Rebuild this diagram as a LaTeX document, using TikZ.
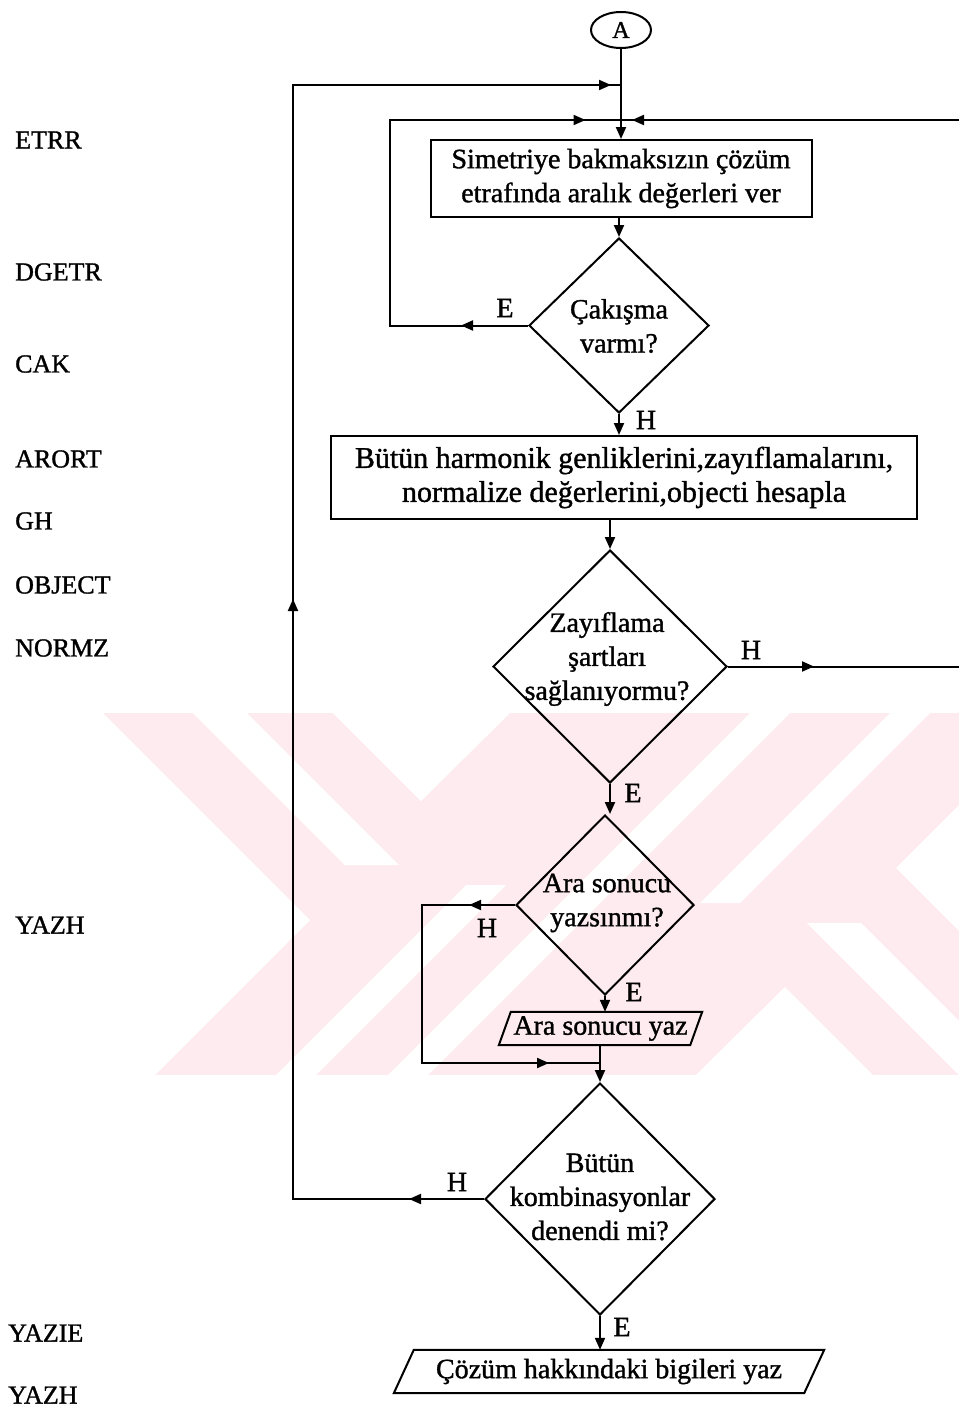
\documentclass[tikz,border=0pt]{standalone}
\usepackage{fontspec}
\setmainfont{Liberation Serif}[FakeBold=1.2]
\usetikzlibrary{shapes.geometric,arrows.meta,decorations.markings,calc}
\definecolor{wm}{RGB}{253,235,239}
\newcommand{\flowfont}{\fontsize{28}{34}\selectfont}
\newcommand{\sidefont}{\fontsize{26}{30}\selectfont}
\tikzset{
  x=1pt, y=-1pt,
  flow/.style={line width=2pt},
  endtip/.style={-{Triangle[length=12pt,width=10pt]}},
  midtip/.style={postaction={decorate,decoration={markings,
      mark=at position #1 with {\arrow{Triangle[length=12pt,width=10pt]}}}}},
  proc/.style={draw,line width=2pt,rectangle,inner sep=0pt,align=center,font=\flowfont},
  dec/.style={draw,line width=2pt,diamond,inner sep=0pt},
  dectext/.style={align=center,font=\flowfont,inner sep=0pt},
  io/.style={inner sep=0pt,font=\flowfont},
  yn/.style={font=\flowfont,inner sep=0pt},
  side/.style={font=\sidefont,anchor=west,inner sep=0pt},
}
\begin{document}
\begin{tikzpicture}
\useasboundingbox (0,0) rectangle (959,1413);

% faint background emblem: a pink band with white notches and slits
\begin{scope}
  \clip (103,713) rectangle (959,1075);
  \fill[wm] (103,713) rectangle (959,1075);
  \fill[white] (0,713) -- (103,713) -- (310,920) -- (155,1075) -- (0,1075) -- cycle;
  \fill[white] (333,713) -- (421,801) -- (510,713) -- cycle;
  \fill[white] (193,713) -- (247,713) -- (399,865) -- (345,865) -- cycle;
  \fill[white] (750,713) -- (790,713) -- (428,1075) -- (388,1075) -- cycle;
  \fill[white] (890,713) -- (930,713) -- (740,903) -- (700,903) -- cycle;
  \fill[white] (276,1075) -- (316,1075) -- (506,885) -- (466,885) -- cycle;
  \fill[white] (1051,713) -- (896,868) -- (1103,1075) -- (1200,1075) -- (1200,713) -- cycle;
  \fill[white] (873,1075) -- (785,987) -- (696,1075) -- cycle;
  \fill[white] (1013,1075) -- (959,1075) -- (807,923) -- (861,923) -- cycle;
\end{scope}

% subroutine names
\node[side] (s1) at (15,140) {ETRR};
\node[side] (s2) at (15,272) {DGETR};
\node[side] (s3) at (15,364) {CAK};
\node[side] (s4) at (15,459) {ARORT};
\node[side] (s5) at (15,521) {GH};
\node[side] (s6) at (15,585) {OBJECT};
\node[side] (s7) at (15,648) {NORMZ};
\node[side] (s8) at (15,925) {YAZH};
\node[side] (s9) at (8,1333) {YAZIE};
\node[side] (s10) at (8,1395) {YAZH};

% flowchart nodes
\node[draw,line width=2pt,ellipse,minimum width=60pt,minimum height=36pt,inner sep=0pt,
      font=\fontsize{24}{28}\selectfont] (A) at (621,30) {A};
\node[proc,minimum width=381pt,minimum height=77pt] (b1) at (621,178.5)
  {Simetriye bakmaksızın çözüm\\etrafında aralık değerleri ver};
\node[dec,minimum width=180pt,minimum height=175pt] (d1) at (619,325.5) {};
\node[dectext] (t1) at (619,326) {Çakışma\\varmı?};
\node[proc,minimum width=586pt,minimum height=83pt,font=\fontsize{30}{34}\selectfont] (b2) at (624,477.5)
  {Bütün harmonik genliklerini,zayıflamalarını,\\normalize değerlerini,objecti hesapla};
\node[dec,minimum width=234pt,minimum height=233pt] (d2) at (610,666.5) {};
\node[dectext] (t2) at (607,659) {Zayıflama\\şartları\\sağlanıyormu?};
\node[dec,minimum width=178pt,minimum height=180pt] (d3) at (605,905) {};
\node[dectext] (t3) at (607,903) {Ara sonucu\\yazsınmı?};
\node[io,minimum width=191pt,minimum height=33pt] (p1) at (600.5,1028.5) {Ara sonucu yaz};
\draw[flow] ($(p1.north west)+(6,0)$) -- ($(p1.north east)+(6,0)$)
  -- ($(p1.south east)+(-6,0)$) -- ($(p1.south west)+(-6,0)$) -- cycle;
\node[dec,minimum width=230pt,minimum height=232pt] (d4) at (600,1199) {};
\node[dectext] (t4) at (600,1197) {Bütün\\kombinasyonlar\\denendi mi?};
\node[io,minimum width=410pt,minimum height=43pt] (p2) at (609,1371.5) {Çözüm hakkındaki bigileri yaz};
\draw[flow] ($(p2.north west)+(10,0)$) -- ($(p2.north east)+(10,0)$)
  -- ($(p2.south east)+(-10,0)$) -- ($(p2.south west)+(-10,0)$) -- cycle;

% branch letters
\node[yn] (e1) at (505,308) {E};
\node[yn] (h1) at (646,420) {H};
\node[yn] (h2) at (751,650) {H};
\node[yn] (e2) at (633,793) {E};
\node[yn] (h3) at (487,928) {H};
\node[yn] (e3) at (634,992) {E};
\node[yn] (h4) at (457,1182) {H};
\node[yn] (e4) at (622,1327) {E};

% loop corners and open ends
\coordinate (outer) at (293,85);
\coordinate (inner) at (390,120);
\coordinate (rtop) at (959,120);
\coordinate (rmid) at (959,666.5);
\coordinate (skip) at (422,1063);

% main flow
\draw[flow,endtip] (A.south) -- (b1.north);
\draw[flow,endtip] (b1.south -| d1.north) -- (d1.north);
\draw[flow,endtip] (d1.south) -- (d1.south |- b2.north);
\draw[flow,endtip] (d2.north |- b2.south) -- (d2.north);
\draw[flow,endtip] (d2.south) -- (d2.south |- d3.north);
\draw[flow,endtip] (d3.south) -- (d3.south |- p1.north);
\draw[flow,endtip] (p1.south -| d4.north) -- (d4.north);
\draw[flow,endtip] (d4.south) -- (d4.south |- p2.north);

% loops back to the top
\draw[flow,midtip=67pt,midtip=539pt] (d1.west) -| (inner) -- (inner -| b1.north);
\draw[flow,midtip=327pt] (rtop) -- (rtop -| b1.north);
\draw[flow,midtip=86pt] (d2.east) -- (rmid);
\draw[flow,midtip=46pt,midtip=378pt] (d3.west) -| (skip) -- (skip -| p1.south);
\draw[flow,midtip=75pt,midtip=791pt,midtip=1623pt] (d4.west) -| (outer) -- (outer -| A.south);
\end{tikzpicture}
\end{document}
